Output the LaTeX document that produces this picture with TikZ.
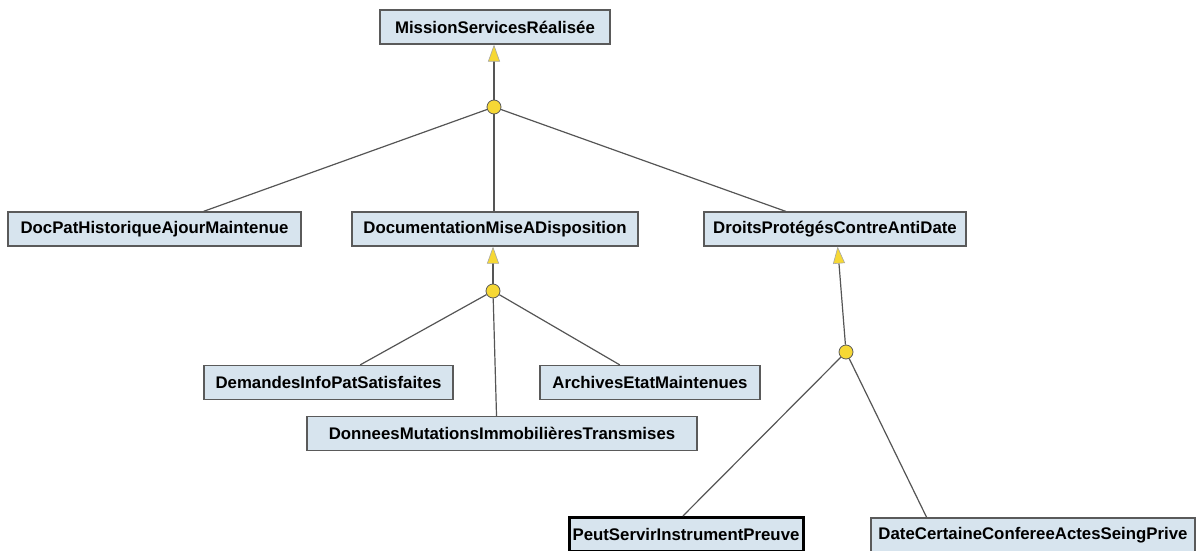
\documentclass[tikz,border=0pt]{standalone}
\usepackage{fontspec}
\setmainfont{Liberation Sans}
\usetikzlibrary{arrows.meta,calc}
\definecolor{boxfill}{HTML}{D7E4EE}
\definecolor{boxline}{HTML}{5A5A5A}
\definecolor{linkgray}{HTML}{555555}
\definecolor{joinfill}{HTML}{F6D835}
\tikzset{
  goal/.style={draw=boxline, line width=1.2pt, fill=boxfill, rectangle, inner sep=0pt,
    minimum height=34pt, font=\fontsize{16.8}{19}\selectfont\bfseries, text=black},
  leafgoal/.style={goal, draw=black, line width=3pt},
  joint/.style={circle, draw=boxline, line width=0.8pt, fill=joinfill, minimum size=14pt, inner sep=0pt},
  link/.style={draw=linkgray, line width=1.2pt},
  refine/.style={link, -{Triangle[length=17pt,width=12pt,fill=joinfill,color=gray!70,line width=0.6pt]}},
}
\begin{document}
\begin{tikzpicture}[x=1pt,y=-1pt]
\useasboundingbox (0,0) rectangle (1202,551);
% goals
\node[goal, minimum width=230pt] (mission) at (495,27) {MissionServicesRéalisée};
\node[goal, minimum width=293pt] (docpat) at (154.5,229) {DocPatHistoriqueAjourMaintenue};
\node[goal, minimum width=286pt] (docmise) at (495,229) {DocumentationMiseADisposition};
\node[goal, minimum width=262pt] (droits) at (835,229) {DroitsProtégésContreAntiDate};
\node[goal, minimum width=249pt] (demandes) at (328.5,382.5) {DemandesInfoPatSatisfaites};
\node[goal, minimum width=220pt] (archives) at (650,382.5) {ArchivesEtatMaintenues};
\node[goal, minimum width=390pt] (donnees) at (502,433.5) {DonneesMutationsImmobilièresTransmises};
\node[leafgoal, minimum width=234pt] (peut) at (686,534.5) {PeutServirInstrumentPreuve};
\node[goal, minimum width=324pt] (datecert) at (1033,535) {DateCertaineConfereeActesSeingPrive};
% refinement joints
\node[joint] (j1) at (494,107) {};
\node[joint] (j2) at (493,291) {};
\node[joint] (j3) at (846,352) {};
% refinements
\draw[refine] (j1) -- (mission.south -| j1);
\draw[refine] (j2) -- (docmise.south -| j2);
\draw[refine] (j3) -- ($(droits.south west)!0.51!(droits.south east)$);
% sub-goals
\draw[link] (j1) -- (docpat);
\draw[link] (j1) -- (docmise.north -| j1);
\draw[link] (j1) -- (droits);
\draw[link] (j2) -- (demandes);
\draw[link] (j2) -- ($(donnees.north west)!0.486!(donnees.north east)$);
\draw[link] (j2) -- (archives);
\draw[link] (j3) -- ($(peut.north west)!0.487!(peut.north east)$);
\draw[link] (j3) -- ($(datecert.north west)!0.173!(datecert.north east)$);
\end{tikzpicture}
\end{document}
